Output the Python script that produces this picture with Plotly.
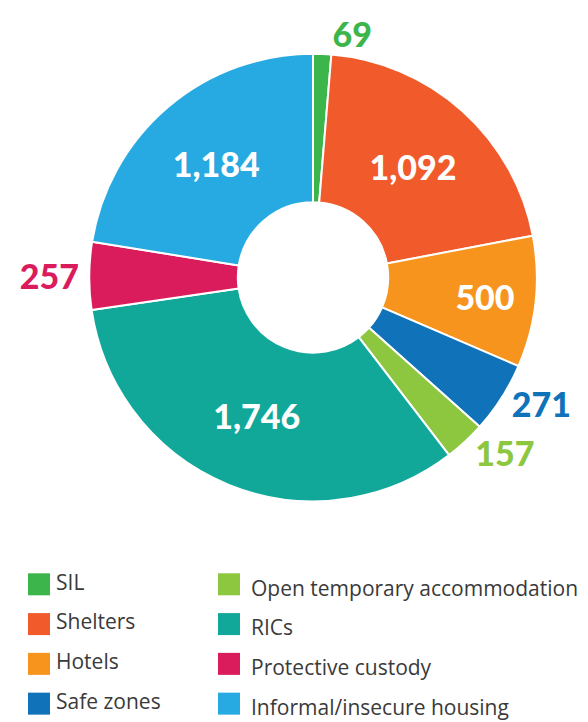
import plotly.graph_objects as go

categories = ["SIL", "Shelters", "Hotels", "Safe zones", "Open temporary accommodation",
              "RICs", "Protective custody", "Informal/insecure housing"]
values = [69, 1092, 500, 271, 157, 1746, 257, 1184]
colors = ["#3cb54a", "#f15a2b", "#f7941d", "#1073ba", "#8dc63f", "#11a89a", "#da1c5c", "#27aae1"]
text_pos = ["outside", "inside", "inside", "outside", "outside", "inside", "outside", "inside"]

labels_text = [f"{v:,}" for v in values]
font_colors = ["white" if p == "inside" else c for p, c in zip(text_pos, colors)]

W, H = 588, 722
cx, cy, R = 305, 267, 225  # figure pixels (page body adds an 8px margin)

fig = go.Figure()
fig.add_trace(go.Pie(
    labels=categories, values=values, sort=False, direction="clockwise", rotation=0,
    hole=0.336, text=labels_text, textinfo="text", textposition=text_pos,
    insidetextorientation="horizontal",
    marker=dict(colors=colors, line=dict(color="white", width=2)),
    textfont=dict(family="Lato", size=34, color=font_colors, weight=900),
    showlegend=False, hoverinfo="label+value",
    domain=dict(x=[(cx - R) / W, (cx + R) / W],
                y=[(H - cy - R) / H, (H - cy + R) / H]),
))

# Legend drawn as a two-column key (4 rows per column)
col_sq_x = [31, 221]
col_tx_x = [48, 243]
row_y0, row_step = 575.5, 40
sq_x = [col_sq_x[i // 4] for i in range(len(categories))]
sq_y = [row_y0 + row_step * (i % 4) for i in range(len(categories))]
tx_x = [col_tx_x[i // 4] for i in range(len(categories))]
tx_y = [y + (6 if i >= 4 else 0) for i, y in enumerate(sq_y)]

fig.add_trace(go.Scatter(
    x=sq_x, y=sq_y, mode="markers", showlegend=False, hoverinfo="skip",
    marker=dict(symbol="square", size=22, color=colors, line=dict(width=0)),
))
fig.add_trace(go.Scatter(
    x=tx_x, y=tx_y, mode="text", text=categories, textposition="middle right",
    showlegend=False, hoverinfo="skip",
    textfont=dict(family="Open Sans", size=21, color="#3a3a3a"),
))

fig.update_layout(
    width=W, height=H, margin=dict(l=0, r=0, t=0, b=0),
    paper_bgcolor="white", plot_bgcolor="white",
    xaxis=dict(visible=False, range=[0, W], fixedrange=True),
    yaxis=dict(visible=False, range=[H, 0], fixedrange=True),
)
fig.write_html("out.html")
